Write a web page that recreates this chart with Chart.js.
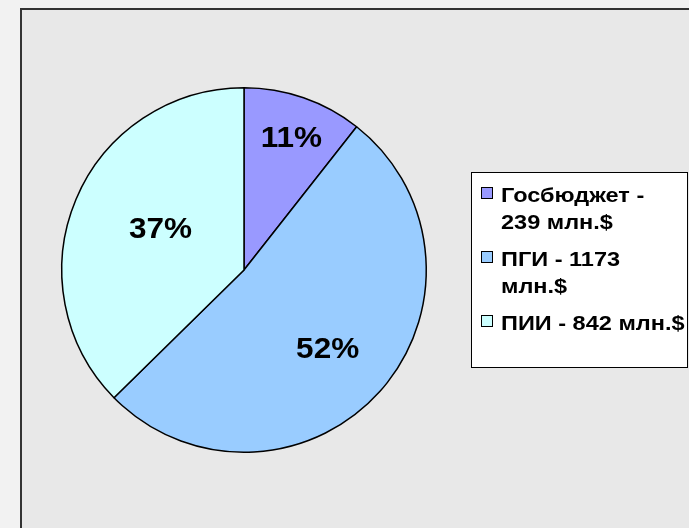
<!DOCTYPE html>
<html>
<head>
<meta charset="utf-8">
<script src="https://cdn.jsdelivr.net/npm/chart.js@4"></script>
<style>
  html, body { margin: 0; padding: 0; background: #f2f2f2; }
  #wrap { position: relative; width: 689px; height: 528px; }
</style>
</head>
<body>
<div id="wrap"><canvas id="pie" width="689" height="528"></canvas></div>
<script>
// data
const categories = ["Госбюджет", "ПГИ", "ПИИ"];
const values = [239, 1173, 842];
const legendLines = [
  ["Госбюджет -", "239 млн.$"],
  ["ПГИ - 1173", "млн.$"],
  ["ПИИ - 842 млн.$"]
];
const colors = ["#9999FF", "#99CCFF", "#CCFFFF"];

const total = values.reduce((a, b) => a + b, 0);

// frame + background behind the plot
const frame = {
  id: "frame",
  beforeDraw(chart) {
    const c = chart.ctx;
    c.save();
    c.fillStyle = "#f2f2f2";
    c.fillRect(0, 0, 689, 528);
    c.fillStyle = "#e8e8e8";
    c.fillRect(21, 9, 680, 530);
    c.strokeStyle = "#333";
    c.lineWidth = 2;
    c.strokeRect(21, 9, 700, 540);
    c.restore();
  }
};

// draw text stretched a bit wider, like the original rendering
function wideText(c, t, x, y, sx) {
  c.save();
  c.translate(x, y);
  c.scale(sx, 1);
  c.fillText(t, 0, 0);
  c.restore();
}

// percent labels inside slices (radius fraction, angle nudge in degrees)
const labelFrac = [0.773, 0.63, 0.51];
const labelShift = [0.6, 1.4, 3.4];
const pctLabels = {
  id: "pctLabels",
  afterDatasetsDraw(chart) {
    const c = chart.ctx;
    const meta = chart.getDatasetMeta(0);
    c.save();
    c.font = "bold 30px 'Liberation Sans', Arial, sans-serif";
    c.fillStyle = "#000";
    c.textAlign = "center";
    c.textBaseline = "middle";
    meta.data.forEach((arc, i) => {
      const mid = (arc.startAngle + arc.endAngle) / 2 + labelShift[i] * Math.PI / 180;
      const r = arc.outerRadius * labelFrac[i];
      const x = arc.x + Math.cos(mid) * r;
      const y = arc.y + Math.sin(mid) * r;
      wideText(c, Math.round(values[i] / total * 100) + "%", x, y + 1, 1.05);
    });
    c.restore();
  }
};

// legend box on the right
const legendBox = {
  id: "legendBox",
  afterDraw(chart) {
    const c = chart.ctx;
    c.save();
    c.fillStyle = "#fff";
    c.fillRect(471, 172, 217, 196);
    c.strokeStyle = "#000";
    c.lineWidth = 1;
    c.strokeRect(471.5, 172.5, 216, 195);
    c.font = "bold 21px 'Liberation Sans', Arial, sans-serif";
    c.textBaseline = "alphabetic";
    let y = 202;
    legendLines.forEach((lines, i) => {
      c.fillStyle = colors[i];
      c.fillRect(481, y - 15, 12, 12);
      c.strokeStyle = "#000";
      c.strokeRect(481.5, y - 14.5, 11, 11);
      c.fillStyle = "#000";
      lines.forEach((t, j) => {
        wideText(c, t, 501, y + j * 27, 1.12);
      });
      y += (lines.length - 1) * 27 + 37;
    });
    c.restore();
  }
};

new Chart(document.getElementById("pie"), {
  type: "pie",
  data: {
    labels: categories,
    datasets: [{
      data: values,
      backgroundColor: colors,
      borderColor: "#000",
      borderWidth: 1.5
    }]
  },
  options: {
    responsive: false,
    animation: false,
    layout: { padding: { left: 61, right: 262, top: 87, bottom: 75 } },
    plugins: {
      legend: { display: false },
      tooltip: { enabled: false }
    }
  },
  plugins: [frame, pctLabels, legendBox]
});
</script>
</body>
</html>
